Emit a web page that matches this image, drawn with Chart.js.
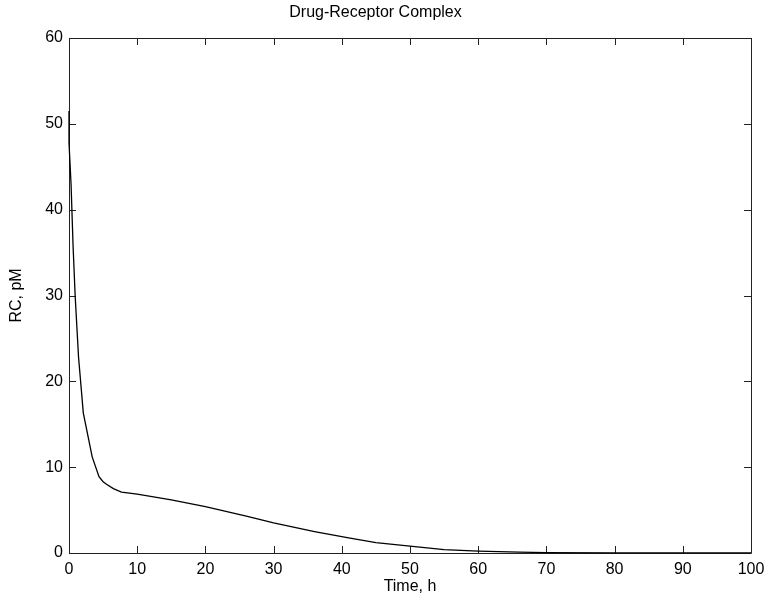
<!DOCTYPE html>
<html>
<head>
<meta charset="utf-8">
<script src="https://cdn.jsdelivr.net/npm/chart.js@4"></script>
<style>
html,body{margin:0;padding:0;background:#fff;}
#wrap{width:779px;height:604px;}
</style>
</head>
<body>
<div id="wrap"><canvas id="c" width="779" height="604"></canvas></div>
<script>
const titleText = "Drug-Receptor Complex";
const xLabel = "Time, h";
const yLabel = "RC, pM";
const timeH = [0, 0, 0.3, 0.6, 0.9, 1.4, 2.1, 3.4, 4.4, 5.0, 5.5, 6.5, 7.7, 10, 15, 20, 26, 30, 36, 41, 45, 50, 55, 60, 66, 70, 80, 90, 100];
const rcPM  = [51.5, 47.8, 43, 35.7, 30, 22.8, 16.3, 11.2, 8.9, 8.3, 8.0, 7.5, 7.1, 6.85, 6.2, 5.4, 4.3, 3.5, 2.5, 1.75, 1.2, 0.8, 0.4, 0.22, 0.1, 0.05, 0.02, 0.01, 0.01];
const xTicks = [0, 10, 20, 30, 40, 50, 60, 70, 80, 90, 100];
const yTicks = [0, 10, 20, 30, 40, 50, 60];

const FONT = "'Liberation Sans', Arial, sans-serif";
const points = timeH.map((t, i) => ({x: t, y: rcPM[i]}));

const boxTicks = {
  id: 'boxTicks',
  beforeDatasetsDraw(chart) {
    const ctx = chart.ctx;
    const a = chart.chartArea;
    const xs = chart.scales.x, ys = chart.scales.y;
    const L = 7;
    ctx.save();
    ctx.strokeStyle = '#222';
    ctx.lineWidth = 1;
    ctx.beginPath();
    ctx.rect(Math.round(a.left) + 0.5, Math.round(a.top) + 0.5, Math.round(a.right - a.left), Math.round(a.bottom - a.top));
    xTicks.forEach(v => {
      const px = Math.round(xs.getPixelForValue(v)) + 0.5;
      ctx.moveTo(px, a.bottom); ctx.lineTo(px, a.bottom - L);
      ctx.moveTo(px, a.top); ctx.lineTo(px, a.top + L);
    });
    yTicks.forEach(v => {
      const py = Math.round(ys.getPixelForValue(v)) + 0.5;
      ctx.moveTo(a.left, py); ctx.lineTo(a.left + L, py);
      ctx.moveTo(a.right, py); ctx.lineTo(a.right - L, py);
    });
    ctx.stroke();
    ctx.restore();
  }
};

new Chart(document.getElementById('c'), {
  type: 'line',
  data: {
    datasets: [{
      data: points,
      borderColor: '#000',
      borderWidth: 1.3,
      pointRadius: 0,
      tension: 0,
      fill: false,
      clip: false
    }]
  },
  options: {
    responsive: false,
    animation: false,
    layout: { padding: { top: 0, right: 28, bottom: 0, left: 0 } },
    plugins: {
      legend: { display: false },
      tooltip: { enabled: false },
      title: {
        display: true,
        text: titleText,
        color: '#000',
        font: { family: FONT, size: 16, weight: 'normal' },
        padding: { top: 3, bottom: 15.8 }
      }
    },
    scales: {
      x: {
        type: 'linear',
        min: 0, max: 100,
        grid: { display: false, drawTicks: false, tickLength: 0 },
        border: { display: false },
        ticks: {
          stepSize: 10,
          color: '#000',
          padding: 7,
          maxRotation: 0,
          font: { family: FONT, size: 16 }
        },
        title: {
          display: true,
          text: xLabel,
          color: '#000',
          font: { family: FONT, size: 16 },
          padding: { top: 0, bottom: 8 }
        },
        afterFit(s) { s.height = 51; }
      },
      y: {
        type: 'linear',
        min: 0, max: 60,
        grid: { display: false, drawTicks: false, tickLength: 0 },
        border: { display: false },
        ticks: {
          stepSize: 10,
          color: '#000',
          padding: 6,
          font: { family: FONT, size: 16 }
        },
        title: {
          display: true,
          text: yLabel,
          color: '#000',
          font: { family: FONT, size: 16 },
          padding: { top: 7, bottom: 0 }
        },
        afterFit(s) { s.width = 69; }
      }
    }
  },
  plugins: [boxTicks]
});
</script>
</body>
</html>
